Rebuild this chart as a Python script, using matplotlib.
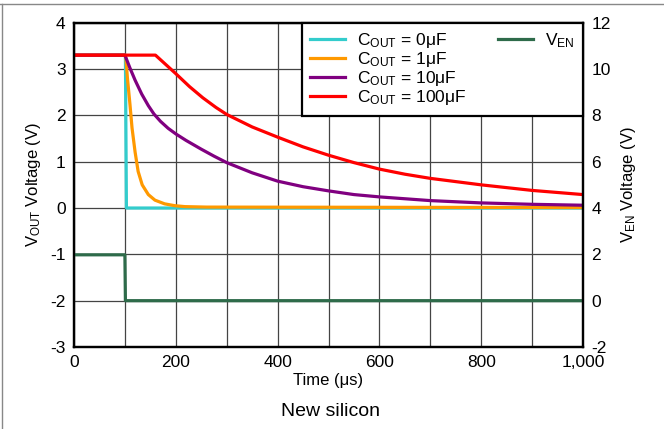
import matplotlib
matplotlib.use("Agg")
import matplotlib.pyplot as plt
from matplotlib.lines import Line2D
from matplotlib.ticker import MultipleLocator, FuncFormatter

plt.rcParams['font.family'] = ['Liberation Sans', 'DejaVu Sans']
plt.rcParams['mathtext.fontset'] = 'custom'
plt.rcParams['mathtext.rm'] = 'Liberation Sans'
plt.rcParams['mathtext.it'] = 'Liberation Sans'
plt.rcParams['axes.unicode_minus'] = False

# time in us, voltage in V
t_c0 = [0, 101, 103, 1000]
v_c0 = [3.3, 3.3, 0.0, 0.0]

t_c1 = [0, 100, 102, 105, 110, 114, 120, 126, 134, 146, 159, 178, 198, 218, 260, 1000]
v_c1 = [3.3, 3.3, 3.23, 2.8, 2.23, 1.73, 1.21, 0.79, 0.5, 0.29, 0.17, 0.09, 0.05, 0.03, 0.02, 0.01]

t_c10 = [0, 100, 110, 120, 133, 146, 157, 170, 185, 200, 220, 250, 275, 300, 350, 400, 450,
         500, 550, 600, 700, 800, 900, 1000]
v_c10 = [3.3, 3.3, 3.02, 2.76, 2.46, 2.21, 2.03, 1.87, 1.72, 1.6, 1.46, 1.27, 1.12, 0.98, 0.76, 0.58, 0.46,
         0.37, 0.29, 0.24, 0.16, 0.11, 0.08, 0.06]

t_c100 = [0, 160, 180, 200, 227, 253, 279, 300, 350, 400, 450, 500, 550, 600, 650, 700, 800, 900, 1000]
v_c100 = [3.3, 3.3, 3.1, 2.9, 2.62, 2.38, 2.17, 2.02, 1.75, 1.53, 1.32, 1.14, 0.98, 0.84, 0.73, 0.64,
          0.5, 0.38, 0.29]

t_en = [0, 100, 101, 1000]
v_en = [1.98, 1.98, 0.0, 0.0]

labels = [r'C$_{\mathrm{OUT}}$ = 0μF', r'C$_{\mathrm{OUT}}$ = 1μF',
          r'C$_{\mathrm{OUT}}$ = 10μF', r'C$_{\mathrm{OUT}}$ = 100μF']
colors = ['#33CCCC', '#FF9900', '#800080', '#FF0000']

fig = plt.figure(figsize=(6.64, 4.29), dpi=100)
ax = fig.add_axes([74/664, 1 - 347/429, (583-74)/664, (347-22.7)/429])
ax2 = ax.twinx()

lw = 2.3
handles = []
for tt, vv, c, lab in zip([t_c0, t_c1, t_c10, t_c100], [v_c0, v_c1, v_c10, v_c100], colors, labels):
    h, = ax.plot(tt, vv, color=c, lw=lw, label=lab)
    handles.append(h)
h_en, = ax2.plot(t_en, v_en, color='#2E6B4A', lw=lw, label=r'V$_{\mathrm{EN}}$')

ax.set_xlim(0, 1000)
ax.set_ylim(-3, 4)
ax2.set_ylim(-2, 12)
ax.xaxis.set_major_locator(MultipleLocator(200))
ax.xaxis.set_minor_locator(MultipleLocator(100))
ax.yaxis.set_major_locator(MultipleLocator(1))
ax2.yaxis.set_major_locator(MultipleLocator(2))
ax.xaxis.set_major_formatter(FuncFormatter(lambda v, p: f'{int(v):,}'))
ax.grid(True, which='both', color='#444444', lw=0.9)
ax.set_axisbelow(True)

for a in (ax, ax2):
    a.tick_params(which='both', length=0, labelsize=12.5, pad=6)
    for s in a.spines.values():
        s.set_linewidth(1.6)
        s.set_color('black')

ax.set_xlabel('Time (μs)', fontsize=12, labelpad=2)
ax.set_ylabel(r'V$_{\mathrm{OUT}}$ Voltage (V)', fontsize=12, labelpad=5)
ax2.set_ylabel(r'V$_{\mathrm{EN}}$ Voltage (V)', fontsize=12, labelpad=6)

blank = Line2D([], [], color='none')
leg = ax2.legend(handles + [h_en, blank, blank, blank],
                 labels + [r'V$_{\mathrm{EN}}$', '', '', ''],
                 ncol=2, loc='upper right', bbox_to_anchor=(1.0, 1.0),
                 fancybox=False, framealpha=1, edgecolor='black', fontsize=12.5,
                 handlelength=2.0, handletextpad=0.7, labelspacing=0.0,
                 columnspacing=1.8, borderpad=0.5, borderaxespad=0)
leg.get_frame().set_linewidth(1.6)

fig.text(0.497, 1 - 411/429, 'New silicon', ha='center', va='center', fontsize=14)

fig.add_artist(Line2D([0, 1], [1 - 4/429, 1 - 4/429], transform=fig.transFigure, color='#888888', lw=1))
fig.add_artist(Line2D([1.5/664, 1.5/664], [0, 1 - 4/429], transform=fig.transFigure, color='#888888', lw=1))

fig.savefig('out.png', dpi=100)
